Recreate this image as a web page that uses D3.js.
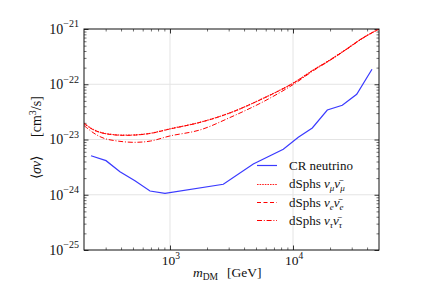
<!DOCTYPE html>
<html>
<head>
<meta charset="utf-8">
<script src="https://cdn.jsdelivr.net/npm/d3@7"></script>
<style>
  html, body { margin: 0; padding: 0; background: #fff; }
  svg { display: block; }
  text { font-family: "Liberation Serif", "Times New Roman", serif; fill: #111; }
</style>
</head>
<body>
<svg id="chart" width="421" height="295"></svg>
<script>
// ---- data ----
const crMass  = [228, 302, 392, 519, 688, 911, 2713, 4755, 8337, 11040, 14350, 19000, 25160, 32940, 43860];
const crSigma = [5.09e-24, 4.14e-24, 2.61e-24, 1.79e-24, 1.17e-24, 1.06e-24, 1.55e-24, 3.6e-24, 6.65e-24, 1.1e-23, 1.62e-23, 3.42e-23, 4.16e-23, 6.58e-23, 1.87e-22];

const dsMass    = [200, 241, 291, 373, 510, 697, 1000, 1754, 3074, 5733, 10050, 14620, 19980, 27320, 37260, 50000];
const dsMuSigma = [1.96e-23, 1.49e-23, 1.30e-23, 1.21e-23, 1.21e-23, 1.30e-23, 1.56e-23, 2.05e-23, 3.04e-23, 5.57e-23, 1.05e-22, 1.81e-22, 2.75e-22, 4.35e-22, 6.96e-22, 1.0e-21];
const dsESigma  = [1.94e-23, 1.48e-23, 1.29e-23, 1.20e-23, 1.20e-23, 1.29e-23, 1.55e-23, 2.04e-23, 3.03e-23, 5.55e-23, 1.05e-22, 1.81e-22, 2.75e-22, 4.34e-22, 6.95e-22, 1.0e-21];
const dsTauSigma= [1.79e-23, 1.30e-23, 1.05e-23, 9.39e-24, 8.89e-24, 9.39e-24, 1.16e-23, 1.49e-23, 2.50e-23, 4.83e-23, 9.9e-23, 1.76e-22, 2.71e-22, 4.31e-22, 6.93e-22, 1.0e-21];

const xDomain = [200, 50000];
const yDomain = [1e-25, 1e-21];
const xTickValues = [1e3, 1e4];
const xTickExps = ["3", "4"];
const yTickValues = [1e-25, 1e-24, 1e-23, 1e-22, 1e-21];
const yTickExps = ["−25", "−24", "−23", "−22", "−21"];

const legendItems = [
  {key: "cr",  parts: [["CR neutrino", "n"]]},
  {key: "mu",  parts: [["dSphs ", "n"], ["ν", "i"], ["μ", "s"], ["ν̄", "i"], ["μ", "s"]]},
  {key: "e",   parts: [["dSphs ", "n"], ["ν", "i"], ["e", "s"], ["ν̄", "i"], ["e", "s"]]},
  {key: "tau", parts: [["dSphs ", "n"], ["ν", "i"], ["τ", "s"], ["ν̄", "i"], ["τ", "s"]]}
];

// ---- layout ----
const svg = d3.select("#chart");
const L = 84, R = 379, T = 29, B = 250;

const x = d3.scaleLog().domain(xDomain).range([L, R]);
const y = d3.scaleLog().domain(yDomain).range([B, T]);

function minors(domain) {
  const out = [];
  const lo = Math.floor(Math.log10(domain[0])), hi = Math.ceil(Math.log10(domain[1]));
  for (let e = lo; e <= hi; e++) {
    for (let k = 2; k <= 9; k++) {
      const v = k * Math.pow(10, e);
      if (v > domain[0] * 1.0001 && v < domain[1] * 0.9999) out.push(v);
    }
  }
  return out;
}
const xMinor = minors(xDomain);
const yMinor = minors(yDomain);

// grid
const grid = svg.append("g");
grid.selectAll("line.gx").data(xTickValues).join("line")
  .attr("x1", d => x(d)).attr("x2", d => x(d)).attr("y1", T).attr("y2", B)
  .attr("stroke", "#e4e4e4").attr("stroke-width", 1);
grid.selectAll("line.gy").data(yTickValues.filter(v => v > yDomain[0] && v < yDomain[1])).join("line")
  .attr("x1", L).attr("x2", R).attr("y1", d => y(d)).attr("y2", d => y(d))
  .attr("stroke", "#e4e4e4").attr("stroke-width", 1);

// ticks (inside) via d3 axes
function tickAxis(axisFn, scale, values, size, transform, width) {
  const g = svg.append("g").attr("transform", transform)
    .call(axisFn(scale).tickValues(values).tickSize(size).tickFormat(""));
  g.select(".domain").remove();
  g.selectAll(".tick line").attr("stroke", "#333").attr("stroke-width", width);
}
tickAxis(d3.axisBottom, x, xMinor, -2.5, `translate(0,${B})`, 0.7);
tickAxis(d3.axisBottom, x, xTickValues, -4.5, `translate(0,${B})`, 1);
tickAxis(d3.axisTop, x, xMinor, -2.5, `translate(0,${T})`, 0.7);
tickAxis(d3.axisTop, x, xTickValues, -4.5, `translate(0,${T})`, 1);
tickAxis(d3.axisLeft, y, yMinor, -2.5, `translate(${L},0)`, 0.7);
tickAxis(d3.axisLeft, y, yTickValues, -4.5, `translate(${L},0)`, 1);
tickAxis(d3.axisRight, y, yMinor, -2.5, `translate(${R},0)`, 0.7);
tickAxis(d3.axisRight, y, yTickValues, -4.5, `translate(${R},0)`, 1);

// data lines
const line = d3.line().x(d => x(d[0])).y(d => y(d[1]));
const lineSmooth = d3.line().x(d => x(d[0])).y(d => y(d[1])).curve(d3.curveCatmullRom.alpha(0.5));

svg.append("clipPath").attr("id", "clip").append("rect")
  .attr("x", L).attr("y", T).attr("width", R - L).attr("height", B - T);
const plot = svg.append("g").attr("clip-path", "url(#clip)");

const styles = {
  cr:  {color: "#3a3aff", dash: null, width: 1.2},
  mu:  {color: "#ff2020", dash: "1.6,1", width: 1.2},
  e:   {color: "#ff0000", dash: "4,2.5", width: 1.0},
  tau: {color: "#ff0000", dash: "5,1.8,1,1.8", width: 1.0}
};

plot.append("path").datum(d3.zip(dsMass, dsMuSigma)).attr("d", lineSmooth)
  .attr("fill", "none").attr("stroke", styles.mu.color).attr("stroke-width", styles.mu.width).attr("stroke-dasharray", styles.mu.dash);
plot.append("path").datum(d3.zip(dsMass, dsESigma)).attr("d", lineSmooth)
  .attr("fill", "none").attr("stroke", styles.e.color).attr("stroke-width", styles.e.width).attr("stroke-dasharray", styles.e.dash);
plot.append("path").datum(d3.zip(dsMass, dsTauSigma)).attr("d", lineSmooth)
  .attr("fill", "none").attr("stroke", styles.tau.color).attr("stroke-width", styles.tau.width).attr("stroke-dasharray", styles.tau.dash);
plot.append("path").datum(d3.zip(crMass, crSigma)).attr("d", line)
  .attr("fill", "none").attr("stroke", styles.cr.color).attr("stroke-width", styles.cr.width);

// frame
svg.append("rect").attr("x", L).attr("y", T).attr("width", R - L).attr("height", B - T)
  .attr("fill", "none").attr("stroke", "#111").attr("stroke-width", 1);

// tick labels
const xl = svg.append("g");
xTickValues.forEach((v, i) => {
  const t = xl.append("text").attr("x", x(v) + 1).attr("y", 265).attr("text-anchor", "middle").attr("font-size", 13.5);
  t.append("tspan").text("10");
  t.append("tspan").attr("dy", -6).attr("font-size", 9.5).text(xTickExps[i]);
});
yTickValues.forEach((v, i) => {
  const t = xl.append("text").attr("x", 79).attr("y", y(v) + 4.8).attr("text-anchor", "end").attr("font-size", 14);
  t.append("tspan").text("10");
  t.append("tspan").attr("dy", -6.5).attr("font-size", 10).text(yTickExps[i]);
});

// axis labels
const xlab = svg.append("text").attr("x", 193).attr("y", 277).attr("font-size", 13.5);
xlab.append("tspan").attr("font-style", "italic").text("m");
xlab.append("tspan").attr("dy", 3).attr("font-size", 9.5).text("DM");
xlab.append("tspan").attr("x", 227).attr("dy", -3).text("[GeV]");

const ylab1 = svg.append("text").attr("transform", "translate(41,167.5) rotate(-90)")
  .attr("text-anchor", "middle").attr("font-size", 14);
ylab1.append("tspan").text("⟨");
ylab1.append("tspan").attr("font-style", "italic").text("σv");
ylab1.append("tspan").text("⟩");
const ylab2 = svg.append("text").attr("transform", "translate(41,116.5) rotate(-90)")
  .attr("text-anchor", "middle").attr("font-size", 14);
ylab2.append("tspan").text("[cm");
ylab2.append("tspan").attr("dy", -5).attr("font-size", 10).text("3");
ylab2.append("tspan").attr("dy", 5).text("/s]");

// legend
const lg = svg.append("g");
const rowY = [165, 183.5, 202, 220];
legendItems.forEach((item, i) => {
  const s = styles[item.key];
  const ly = Math.round(rowY[i]) + 0.5;
  lg.append("line").attr("x1", 257).attr("x2", 277).attr("y1", ly).attr("y2", ly)
    .style("stroke", s.color).attr("stroke-width", s.width)
    .attr("stroke-dasharray", s.dash).attr("stroke-linecap", "butt");
  const t = lg.append("text").attr("x", 289).attr("y", rowY[i] + 4.5).attr("font-size", 13);
  let sub = false;
  item.parts.forEach(([txt, kind]) => {
    const sp = t.append("tspan").text(txt);
    if (kind === "i") { sp.attr("font-style", "italic"); if (sub) { sp.attr("dy", -3); sub = false; } }
    if (kind === "s") { sp.attr("font-size", 9).attr("font-style", "italic").attr("dy", 3); sub = true; }
  });
});
</script>
</body>
</html>
